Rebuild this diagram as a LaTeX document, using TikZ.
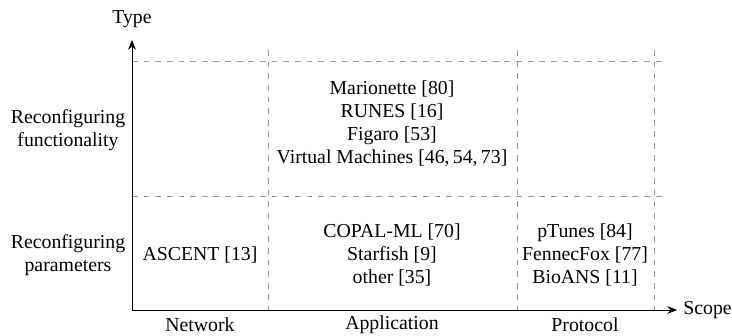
\documentclass[tikz,border=0pt]{standalone}
\usepackage{fontspec}
\setmainfont{Liberation Serif}
\usetikzlibrary{arrows.meta}
\begin{document}
\begin{tikzpicture}[x=0.5155pt, y=-0.5155pt,
  axis/.style={line width=0.5pt, -{Stealth[length=5pt,width=4pt]}},
  grid/.style={gray!80, dashed, line width=0.5pt},
  lbl/.style={font=\fontsize{10.2pt}{11.9pt}\selectfont, align=center, inner sep=0pt},
  entry/.style={lbl}]
  \useasboundingbox (0,0) rectangle (732,336);

  % axes
  \coordinate (O) at (132,310);
  \coordinate (ytip) at (132,40);
  \coordinate (xtip) at (677,310);

  % dashed grid
  \coordinate (h1l) at (132,61);  \coordinate (h1r) at (665,61);
  \coordinate (h2l) at (132,196); \coordinate (h2r) at (665,196);
  \coordinate (v1t) at (268,50);  \coordinate (v1b) at (268,310);
  \coordinate (v2t) at (517,50);  \coordinate (v2b) at (517,310);
  \coordinate (v3t) at (654,50);  \coordinate (v3b) at (654,310);
  \draw[grid] (h1l) -- (h1r);
  \draw[grid] (h2l) -- (h2r);
  \draw[grid] (v1t) -- (v1b);
  \draw[grid] (v2t) -- (v2b);
  \draw[grid] (v3t) -- (v3b);

  \draw[axis] (O) -- (ytip);
  \draw[axis] (O) -- (xtip);

  % axis titles
  \node[lbl, anchor=south] (type) at (132,28) {Type};
  \node[lbl, anchor=west] (scope) at (683,310) {Scope};

  % row labels
  \node[lbl] (rfun) at (68,130) {Reconfiguring\\functionality};
  \node[lbl] (rpar) at (68,255) {Reconfiguring\\parameters};

  % column labels
  \node[lbl] (cnet) at (200,325) {Network};
  \node[lbl] (capp) at (392,325) {Application};
  \node[lbl] (cpro) at (585,325) {Protocol};

  % cells
  \node[entry] (fapp) at (392,124) {Marionette [80]\\RUNES [16]\\Figaro [53]\\Virtual Machines [46,\,54,\,73]};
  \node[entry] (pnet) at (200,255) {ASCENT [13]};
  \node[entry] (papp) at (392,255) {COPAL-ML [70]\\Starfish [9]\\other [35]};
  \node[entry] (ppro) at (585,255) {pTunes [84]\\FennecFox [77]\\BioANS [11]};
\end{tikzpicture}
\end{document}
